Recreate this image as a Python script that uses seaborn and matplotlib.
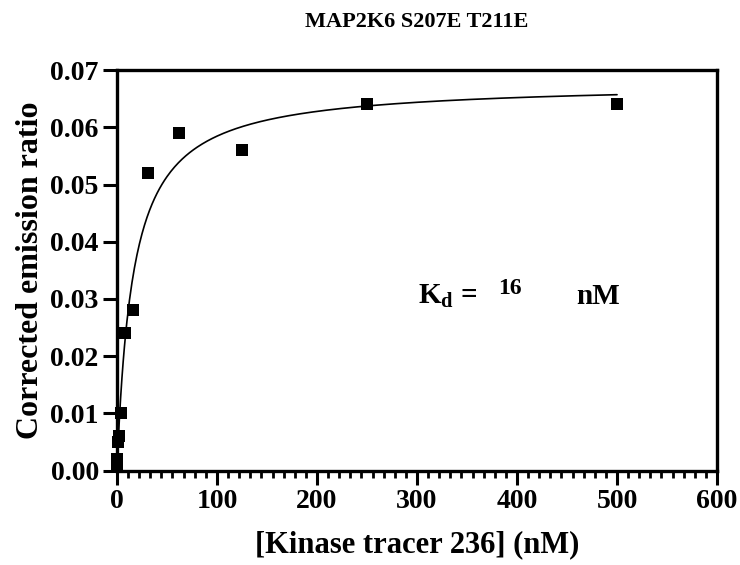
import numpy as np
import pandas as pd
import seaborn as sns
import matplotlib.pyplot as plt
from matplotlib.ticker import MultipleLocator, AutoMinorLocator, FormatStrFormatter

# tracer concentrations (nM) and corrected emission ratios
tracer_nM = [0.24, 0.49, 0.98, 1.95, 3.9, 7.8, 15.6, 31.25, 62.5, 125, 250, 500]
emission_ratio = [0.001, 0.002, 0.005, 0.006, 0.010, 0.024, 0.028, 0.052, 0.059, 0.056, 0.064, 0.064]

# one-site binding fit shown on the chart
kd_nM = 16
bmax = 0.0678

sns.set_theme(style="ticks")
plt.rcParams['font.family'] = ['Liberation Serif', 'DejaVu Serif']
plt.rcParams['font.weight'] = 'bold'
plt.rcParams['text.color'] = 'black'
plt.rcParams['axes.labelcolor'] = 'black'
plt.rcParams['mathtext.fontset'] = 'custom'
plt.rcParams['mathtext.rm'] = 'Liberation Serif:bold'
plt.rcParams['mathtext.bf'] = 'Liberation Serif:bold'

pts = pd.DataFrame({'conc': tracer_nM, 'ratio': emission_ratio})
fit_x = np.linspace(0, max(tracer_nM), 400)
fit = pd.DataFrame({'conc': fit_x, 'ratio': bmax * fit_x / (kd_nM + fit_x)})

fig = plt.figure(figsize=(7.4, 5.65), dpi=100)
ax = fig.add_axes([0.158, 0.167, 0.811, 0.709])

sns.lineplot(data=fit, x='conc', y='ratio', color='black', linewidth=1.2, ax=ax)
sns.scatterplot(data=pts, x='conc', y='ratio', marker='s', s=70, color='black',
                edgecolor='black', linewidth=0, ax=ax, clip_on=False, zorder=5)

ax.set_xlim(0, 600)
ax.set_ylim(0, 0.07)
ax.xaxis.set_major_locator(MultipleLocator(100))
ax.xaxis.set_minor_locator(AutoMinorLocator(9))
ax.yaxis.set_major_locator(MultipleLocator(0.01))
ax.yaxis.set_major_formatter(FormatStrFormatter('%.2f'))

for sp in ax.spines.values():
    sp.set_linewidth(2.4)
    sp.set_color('black')
ax.tick_params(axis='both', which='major', length=10, width=2.2, labelsize=20,
               colors='black', pad=3)
ax.tick_params(axis='x', which='minor', length=5, width=2.0, colors='black')
for lab in ax.get_xticklabels() + ax.get_yticklabels():
    lab.set_fontweight('bold')

ax.set_xlabel('[Kinase tracer 236] (nM)', fontsize=22, fontweight='bold', labelpad=12)
ax.set_ylabel('Corrected emission ratio', fontsize=23, fontweight='bold', labelpad=4)
ax.set_title('MAP2K6 S207E T211E', fontsize=16, fontweight='bold', pad=31)

ax.text(301, 0.0305, r'K$_{\mathbf{d}}$ =', fontsize=21, fontweight='bold', ha='left', va='center')
ax.text(393, 0.0318, str(kd_nM), fontsize=17, fontweight='bold', ha='center', va='center')
ax.text(481, 0.0305, 'nM', fontsize=21, fontweight='bold', ha='center', va='center')

fig.savefig('out.png', dpi=100)
